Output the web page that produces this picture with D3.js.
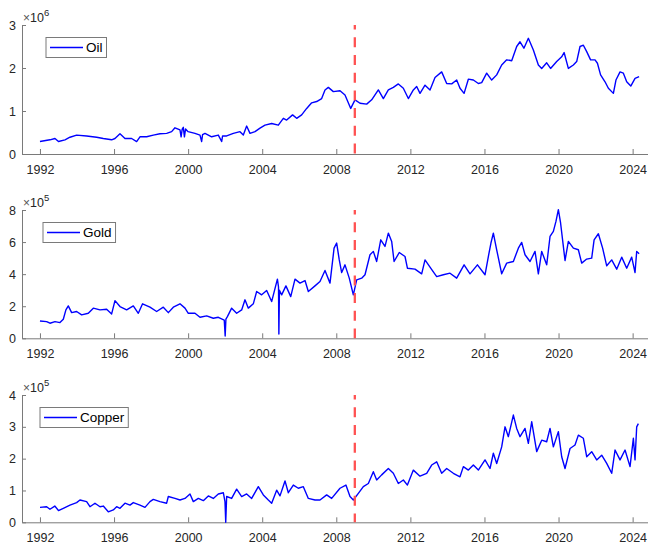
<!DOCTYPE html>
<html>
<head>
<meta charset="utf-8">
<script src="https://cdn.jsdelivr.net/npm/d3@7"></script>
<style>
  body { margin: 0; background: #fff; }
  #chart-container { width: 648px; height: 545px; }
</style>
</head>
<body>
<div id="chart-container"></div>
<script>
// values, in units of the axis multiplier (x10^6 / x10^5)
const oil_years = [
  1992.00, 1992.54, 1992.81, 1993.00, 1993.35, 1993.62, 1993.98, 1994.52, 1995.06, 1995.42,
  1995.87, 1996.05, 1996.32, 1996.59, 1996.95, 1997.22, 1997.40, 1997.76, 1998.12, 1998.48,
  1998.84, 1999.11, 1999.29, 1999.56, 1999.62, 1999.68, 1999.74, 1999.80, 1999.86, 2000.00,
  2000.37, 2000.64, 2000.73, 2000.78, 2000.91, 2001.27, 2001.63, 2001.81, 2001.86, 2002.08,
  2002.44, 2002.80, 2002.98, 2003.16, 2003.34, 2003.61, 2003.88, 2004.15, 2004.51, 2004.87,
  2005.14, 2005.32, 2005.64, 2005.86, 2006.13, 2006.40, 2006.67, 2006.94, 2007.21, 2007.39,
  2007.57, 2007.84, 2008.20, 2008.47, 2008.78, 2009.01, 2009.28, 2009.64, 2009.91, 2010.27,
  2010.54, 2010.81, 2011.08, 2011.35, 2011.62, 2011.89, 2012.16, 2012.34, 2012.52, 2012.79,
  2013.06, 2013.33, 2013.69, 2013.96, 2014.23, 2014.50, 2014.68, 2014.90, 2015.13, 2015.40,
  2015.67, 2015.85, 2016.12, 2016.39, 2016.66, 2016.93, 2017.20, 2017.47, 2017.74, 2017.92,
  2018.13, 2018.37, 2018.64, 2018.91, 2019.09, 2019.36, 2019.57, 2019.90, 2020.17, 2020.30,
  2020.53, 2020.80, 2020.98, 2021.16, 2021.34, 2021.52, 2021.73, 2021.97, 2022.10, 2022.27,
  2022.51, 2022.69, 2022.96, 2023.10, 2023.32, 2023.50, 2023.68, 2023.90, 2024.13, 2024.35
];
const oil_values = [
  0.29, 0.33, 0.36, 0.29, 0.33, 0.39, 0.44, 0.42, 0.39, 0.36,
  0.33, 0.36, 0.47, 0.36, 0.36, 0.29, 0.40, 0.40, 0.44, 0.47,
  0.48, 0.52, 0.61, 0.56, 0.40, 0.58, 0.62, 0.40, 0.58, 0.52,
  0.48, 0.44, 0.29, 0.45, 0.48, 0.40, 0.44, 0.29, 0.42, 0.42,
  0.48, 0.52, 0.44, 0.65, 0.48, 0.52, 0.60, 0.67, 0.71, 0.67,
  0.83, 0.79, 0.91, 0.83, 0.91, 1.06, 1.19, 1.22, 1.29, 1.49,
  1.55, 1.45, 1.47, 1.37, 1.06, 1.26, 1.18, 1.16, 1.26, 1.49,
  1.29, 1.49, 1.55, 1.63, 1.53, 1.29, 1.49, 1.57, 1.41, 1.60,
  1.49, 1.78, 1.91, 1.64, 1.63, 1.72, 1.53, 1.41, 1.74, 1.72,
  1.64, 1.66, 1.88, 1.72, 1.84, 2.07, 2.19, 2.17, 2.50, 2.61,
  2.46, 2.69, 2.42, 2.07, 1.99, 2.12, 1.99, 2.15, 2.26, 2.36,
  1.99, 2.07, 2.15, 2.50, 2.53, 2.38, 2.19, 2.19, 2.11, 1.84,
  1.68, 1.53, 1.41, 1.72, 1.91, 1.88, 1.68, 1.58, 1.76, 1.80
];

const gold_years = [
  1992.00, 1992.36, 1992.54, 1992.81, 1993.08, 1993.26, 1993.40, 1993.53, 1993.71, 1993.98,
  1994.25, 1994.61, 1994.88, 1995.24, 1995.60, 1995.87, 1996.05, 1996.32, 1996.68, 1997.04,
  1997.31, 1997.54, 1997.94, 1998.30, 1998.66, 1998.93, 1999.20, 1999.56, 1999.83, 2000.01,
  2000.37, 2000.64, 2001.00, 2001.36, 2001.63, 2001.95, 2002.00, 2002.04, 2002.12, 2002.35,
  2002.62, 2002.89, 2003.07, 2003.25, 2003.52, 2003.70, 2003.97, 2004.24, 2004.51, 2004.82,
  2004.88, 2004.90, 2004.93, 2005.05, 2005.28, 2005.54, 2005.77, 2006.04, 2006.31, 2006.49,
  2006.85, 2007.12, 2007.39, 2007.66, 2007.88, 2008.02, 2008.16, 2008.29, 2008.47, 2008.70,
  2008.92, 2009.10, 2009.37, 2009.55, 2009.82, 2010.00, 2010.18, 2010.40, 2010.63, 2010.81,
  2010.99, 2011.12, 2011.40, 2011.71, 2011.84, 2012.25, 2012.61, 2012.79, 2013.06, 2013.42,
  2013.78, 2014.14, 2014.50, 2014.90, 2015.22, 2015.62, 2016.03, 2016.21, 2016.35, 2016.48,
  2016.66, 2016.93, 2017.20, 2017.56, 2017.83, 2018.01, 2018.19, 2018.46, 2018.73, 2018.91,
  2019.09, 2019.36, 2019.54, 2019.72, 2019.86, 2019.99, 2020.11, 2020.35, 2020.53, 2020.80,
  2021.07, 2021.25, 2021.52, 2021.79, 2021.92, 2022.15, 2022.38, 2022.60, 2022.87, 2023.14,
  2023.41, 2023.68, 2023.95, 2024.13, 2024.22, 2024.35
];
const gold_values = [
  1.08, 1.04, 0.94, 1.04, 0.98, 1.19, 1.77, 2.02, 1.60, 1.67,
  1.46, 1.56, 1.88, 1.77, 1.81, 1.52, 2.35, 1.98, 1.77, 2.02,
  1.56, 2.15, 1.94, 1.67, 1.94, 1.60, 1.94, 2.15, 1.88, 1.56,
  1.56, 1.31, 1.40, 1.25, 1.31, 1.14, 0.14, 1.20, 1.35, 1.88,
  1.56, 1.77, 2.40, 1.88, 2.15, 2.92, 2.71, 2.98, 2.29, 3.69,
  3.20, 0.27, 3.00, 2.71, 3.27, 2.60, 3.69, 3.44, 3.60, 2.92,
  3.27, 3.54, 4.23, 3.44, 5.62, 5.94, 4.89, 4.10, 4.58, 3.75,
  2.71, 3.64, 3.75, 3.96, 5.21, 5.42, 4.79, 6.14, 5.73, 6.56,
  6.04, 4.79, 5.35, 5.10, 4.37, 4.31, 4.02, 4.89, 4.44, 3.85,
  3.96, 4.06, 3.75, 4.58, 4.02, 4.58, 3.96, 5.10, 5.94, 6.56,
  5.52, 4.02, 4.69, 4.79, 5.62, 5.98, 5.21, 4.79, 5.42, 4.02,
  5.42, 4.58, 6.35, 6.67, 7.29, 8.02, 7.19, 4.85, 6.04, 5.62,
  5.52, 4.69, 4.94, 5.00, 6.14, 6.52, 5.62, 4.52, 4.89, 4.31,
  5.06, 4.37, 5.06, 4.10, 5.42, 5.27
];

const copper_years = [
  1992.00, 1992.36, 1992.54, 1992.80, 1993.00, 1993.26, 1993.62, 1993.98, 1994.16, 1994.52,
  1994.70, 1994.97, 1995.24, 1995.42, 1995.69, 1995.96, 1996.14, 1996.32, 1996.59, 1996.86,
  1997.04, 1997.40, 1997.67, 1997.94, 1998.12, 1998.48, 1998.84, 1998.93, 1999.29, 1999.56,
  1999.83, 2000.10, 2000.28, 2000.55, 2000.82, 2001.09, 2001.36, 2001.63, 2001.90, 2001.99,
  2002.03, 2002.08, 2002.35, 2002.62, 2002.89, 2003.16, 2003.43, 2003.79, 2004.06, 2004.33,
  2004.51, 2004.78, 2004.96, 2005.23, 2005.41, 2005.68, 2005.95, 2006.22, 2006.49, 2006.85,
  2007.12, 2007.48, 2007.75, 2008.20, 2008.52, 2008.74, 2008.92, 2009.19, 2009.46, 2009.73,
  2010.00, 2010.18, 2010.45, 2010.81, 2011.08, 2011.35, 2011.62, 2011.84, 2012.16, 2012.52,
  2012.88, 2013.15, 2013.42, 2013.69, 2013.96, 2014.32, 2014.68, 2014.86, 2015.13, 2015.40,
  2015.67, 2016.03, 2016.30, 2016.48, 2016.66, 2016.93, 2017.11, 2017.29, 2017.56, 2017.74,
  2017.92, 2018.19, 2018.37, 2018.55, 2018.82, 2019.09, 2019.36, 2019.54, 2019.72, 2019.99,
  2020.17, 2020.35, 2020.62, 2020.89, 2021.07, 2021.34, 2021.52, 2021.79, 2022.06, 2022.33,
  2022.60, 2022.87, 2023.05, 2023.32, 2023.59, 2023.86, 2024.04, 2024.13, 2024.22, 2024.31
];
const copper_values = [
  0.47, 0.49, 0.41, 0.51, 0.37, 0.44, 0.54, 0.62, 0.70, 0.65,
  0.49, 0.60, 0.49, 0.51, 0.33, 0.39, 0.49, 0.44, 0.60, 0.54,
  0.62, 0.54, 0.47, 0.65, 0.72, 0.65, 0.60, 0.81, 0.75, 0.70,
  0.75, 0.89, 0.65, 0.75, 0.68, 0.83, 0.75, 0.89, 0.93, 0.65,
  0.00, 0.81, 0.75, 1.04, 0.81, 0.89, 0.75, 1.12, 0.86, 0.70,
  0.60, 1.01, 0.83, 1.30, 0.93, 1.17, 1.07, 1.12, 0.75, 0.70,
  0.70, 0.86, 0.75, 1.07, 1.17, 0.81, 0.70, 0.91, 1.12, 1.22,
  1.59, 1.33, 1.49, 1.69, 1.54, 1.22, 1.33, 1.17, 1.64, 1.45,
  1.54, 1.80, 1.90, 1.54, 1.69, 1.54, 1.43, 1.75, 1.64, 1.80,
  1.64, 1.96, 1.69, 2.17, 1.85, 2.37, 3.00, 2.69, 3.37, 2.95,
  2.69, 2.95, 2.48, 3.16, 2.22, 2.58, 2.53, 2.95, 2.37, 2.85,
  2.06, 1.69, 2.32, 2.43, 2.74, 2.64, 2.06, 2.22, 1.96, 2.11,
  1.85, 1.54, 2.27, 1.96, 2.27, 1.75, 2.64, 1.96, 3.00, 3.10
];

const x_tick_years = [1992, 1996, 2000, 2004, 2008, 2012, 2016, 2020, 2024];
const oil_y_ticks = [0, 1, 2, 3];
const gold_y_ticks = [0, 2, 4, 6, 8];
const copper_y_ticks = [0, 1, 2, 3, 4];
const break_year = 2009;

const panels = [
  { name: "Oil", years: oil_years, values: oil_values, ticks: oil_y_ticks, exponent: "6", top: 25, bottom: 154, legend_left: 46 },
  { name: "Gold", years: gold_years, values: gold_values, ticks: gold_y_ticks, exponent: "5", top: 210, bottom: 338.3, legend_left: 43 },
  { name: "Copper", years: copper_years, values: copper_values, ticks: copper_y_ticks, exponent: "5", top: 395, bottom: 522.3, legend_left: 40 },
];

const font = "'Liberation Sans', Arial, Helvetica, sans-serif";
const text_color = "#262626";
const axis_color = "#7a7a7a";

let svg = d3
  .select("#chart-container")
  .append("svg")
  .attr("width", 648)
  .attr("height", 545)
  .style("background", "#fff");

let x_scale = d3.scaleLinear().domain([1991.03, 2024.83]).range([22, 648]);

panels.forEach((p) => {
  let y_scale = d3
    .scaleLinear()
    .domain([0, d3.max(p.ticks)])
    .range([p.bottom, p.top]);

  let g = svg.append("g").attr("class", "panel-" + p.name.toLowerCase());

  let x_axis = g
    .append("g")
    .attr("class", "x-axis")
    .attr("transform", `translate(0,${p.bottom})`)
    .call(
      d3
        .axisBottom(x_scale)
        .tickValues(x_tick_years)
        .tickFormat(d3.format("d"))
        .tickSizeInner(-5)
        .tickSizeOuter(0)
        .tickPadding(11)
    );

  let y_axis = g
    .append("g")
    .attr("class", "y-axis")
    .attr("transform", `translate(${x_scale.range()[0]},0)`)
    .call(
      d3
        .axisLeft(y_scale)
        .tickValues(p.ticks)
        .tickFormat(d3.format("d"))
        .tickSizeInner(-4)
        .tickSizeOuter(0)
        .tickPadding(6)
    );

  [x_axis, y_axis].forEach((ax) => {
    ax.attr("font-family", font).attr("font-size", 12.5);
    ax.selectAll(".domain").attr("stroke", axis_color).attr("stroke-width", 1);
    ax.selectAll(".tick line").attr("stroke", axis_color).attr("stroke-width", 1);
    ax.selectAll(".tick text").attr("fill", text_color);
  });

  // axis multiplier, MATLAB style
  let mult = g
    .append("text")
    .attr("x", 23)
    .attr("y", p.top - 3)
    .attr("font-family", font)
    .attr("fill", text_color);
  mult.append("tspan").attr("font-size", 12).attr("fill", "#555").text("\u00d7");
  mult.append("tspan").attr("font-size", 12.5).text("10");
  mult
    .append("tspan")
    .attr("font-size", 9.5)
    .attr("dy", -6)
    .text(p.exponent);

  let line = d3
    .line()
    .x((d) => x_scale(d[0]))
    .y((d) => y_scale(d[1]));

  g.append("path")
    .datum(d3.zip(p.years, p.values))
    .attr("fill", "none")
    .attr("stroke", "#0000ff")
    .attr("stroke-width", 1.4)
    .attr("stroke-linejoin", "round")
    .attr("d", line);

  g.append("line")
    .attr("x1", x_scale(break_year))
    .attr("x2", x_scale(break_year))
    .attr("y1", p.top)
    .attr("y2", p.bottom)
    .attr("stroke", "#ff5252")
    .attr("stroke-width", 2.3)
    .attr("stroke-dasharray", "10,7.7")
    .attr("stroke-dashoffset", 5.4);

  // legend box
  let lg = g
    .append("g")
    .attr("transform", `translate(${p.legend_left},${p.top + 12.5})`);
  let box = lg
    .append("rect")
    .attr("y", 0)
    .attr("height", 20)
    .attr("fill", "#fff")
    .attr("stroke", axis_color)
    .attr("stroke-width", 1);
  lg.append("line")
    .attr("x1", 4)
    .attr("x2", 37)
    .attr("y1", 10)
    .attr("y2", 10)
    .attr("stroke", "#0000ff")
    .attr("stroke-width", 1.4);
  let label = lg
    .append("text")
    .attr("x", 40)
    .attr("y", 10)
    .attr("dy", "0.35em")
    .attr("font-family", font)
    .attr("font-size", 13.5)
    .attr("fill", "#000")
    .text(p.name);
  box.attr("width", 40 + label.node().getComputedTextLength() + 4);
});
</script>
</body>
</html>
